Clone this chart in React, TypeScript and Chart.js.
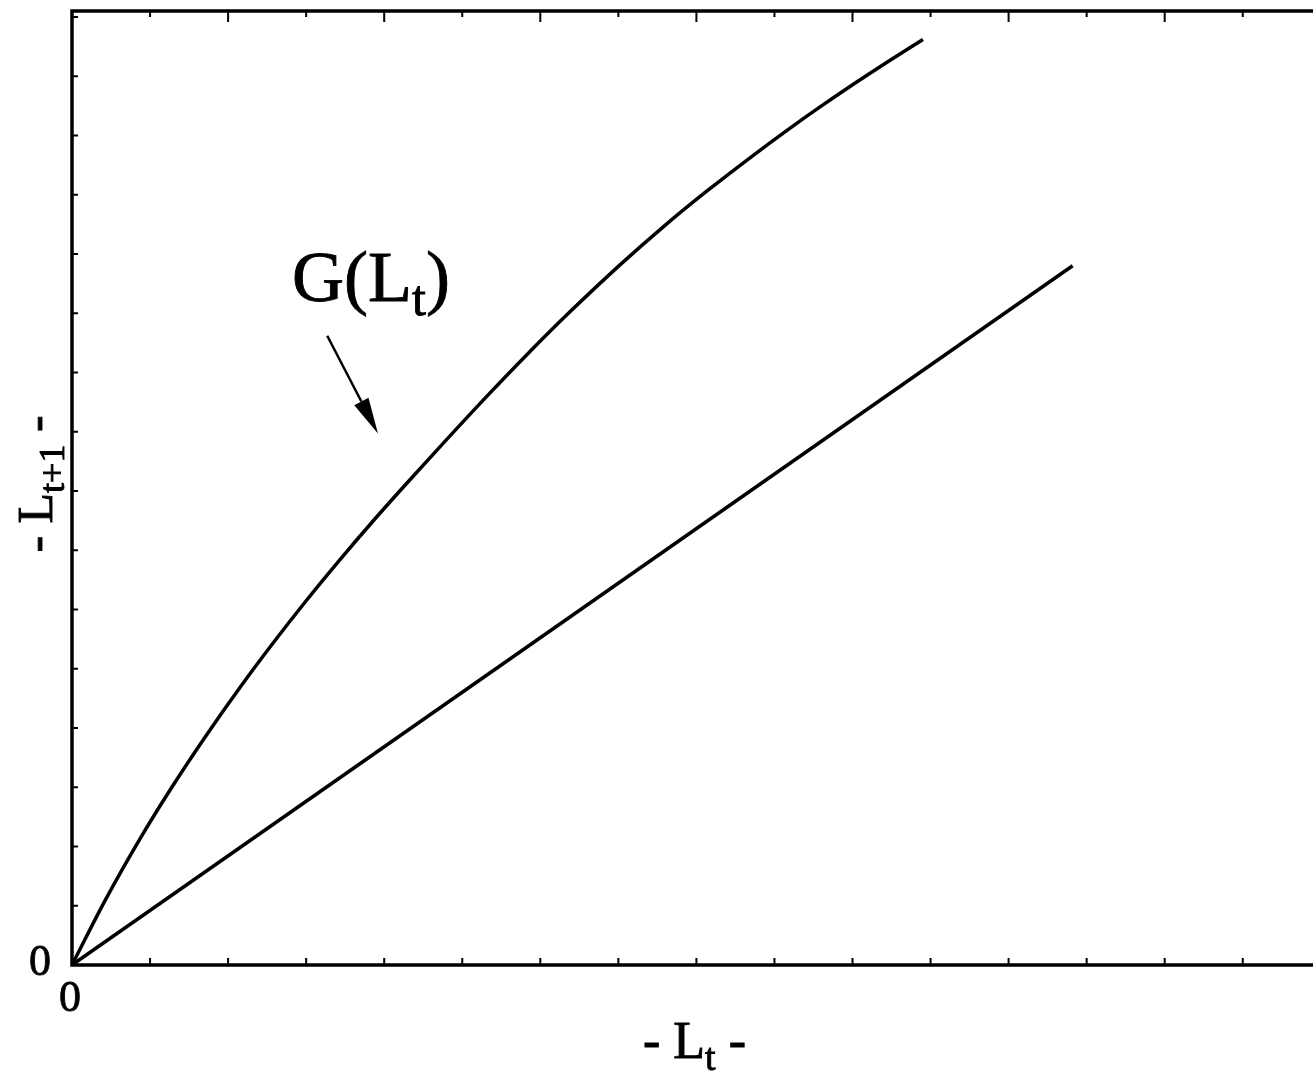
import React, { useEffect, useRef } from "react";
import { Chart, registerables } from "chart.js";

Chart.register(...registerables);

// G(L_t) curve (x = L_t, y = L_{t+1})
const curveX = [0, 0.423, 0.871, 1.281, 1.704, 2.152, 2.562, 2.985, 3.434, 3.844, 4.266, 4.638, 5.317, 5.868, 6.38, 7.021, 7.572, 8.136, 8.725, 9.161, 9.584, 10.006, 10.442, 10.903];
const curveY = [0, 1.087, 2.13, 3.004, 3.845, 4.684, 5.409, 6.122, 6.842, 7.472, 8.096, 8.635, 9.6, 10.354, 11.023, 11.816, 12.454, 13.063, 13.661, 14.086, 14.481, 14.859, 15.235, 15.619];
// straight reference line
const lineX = [0, 12.82];
const lineY = [0, 11.8];

const X_MAX = 15.9;
const Y_MAX = 16.1;
const xTicks = [1, 2, 3, 4, 5, 6, 7, 8, 9, 10, 11, 12, 13, 14, 15];
const yTicks = [1, 2, 3, 4, 5, 6, 7, 8, 9, 10, 11, 12, 13, 14, 15, 16];

const xOriginLabel = "0";
const yOriginLabel = "0";
const curveLabel = { main: "G(L", sub: "t", tail: ")" };
const xTitle = { main: "- L", sub: "t", tail: " -" };
const yTitle = { main: "- L", sub: "t+1", tail: " -" };

// annotation anchors in data units
const curveLabelPos = { x: 2.82, y: 11.21 };
const arrowFrom = { x: 3.27, y: 10.62 };
const arrowTo = { x: 3.92, y: 8.97 };

const FONT = '"Liberation Serif", "Times New Roman", serif';

function drawSubText(
  ctx: CanvasRenderingContext2D,
  x: number,
  y: number,
  parts: { main: string; sub: string; tail: string },
  size: number,
  subSize: number,
  subDrop: number,
  align: "left" | "center"
) {
  ctx.font = `${size}px ${FONT}`;
  const w1 = ctx.measureText(parts.main).width;
  const w3 = ctx.measureText(parts.tail).width;
  ctx.font = `${subSize}px ${FONT}`;
  const w2 = ctx.measureText(parts.sub).width;
  const total = w1 + w2 + w3;
  let sx = align === "center" ? x - total / 2 : x;
  ctx.textAlign = "left";
  ctx.textBaseline = "alphabetic";
  ctx.lineWidth = 0.9;
  ctx.font = `${size}px ${FONT}`;
  ctx.fillText(parts.main, sx, y);
  ctx.strokeText(parts.main, sx, y);
  sx += w1;
  ctx.font = `${subSize}px ${FONT}`;
  ctx.fillText(parts.sub, sx, y + subDrop);
  ctx.strokeText(parts.sub, sx, y + subDrop);
  sx += w2;
  ctx.font = `${size}px ${FONT}`;
  ctx.fillText(parts.tail, sx, y);
  ctx.strokeText(parts.tail, sx, y);
}

const framePlugin = {
  id: "frame",
  afterDraw(chart: any) {
    const ctx: CanvasRenderingContext2D = chart.ctx;
    const { left, right, top, bottom } = chart.chartArea;
    const xs = chart.scales.x;
    const ys = chart.scales.y;
    ctx.save();
    ctx.strokeStyle = "#000";
    ctx.fillStyle = "#000";
    ctx.lineCap = "butt";

    // frame: left, bottom, top
    ctx.lineWidth = 3.5;
    ctx.beginPath();
    ctx.moveTo(right, top);
    ctx.lineTo(left, top);
    ctx.lineTo(left, bottom);
    ctx.lineTo(right, bottom);
    ctx.stroke();

    // ticks
    ctx.lineWidth = 2;
    ctx.beginPath();
    for (const v of xTicks) {
      const px = xs.getPixelForValue(v);
      ctx.moveTo(px, bottom);
      ctx.lineTo(px, bottom - 7);
      const len = v % 2 === 0 ? 11 : 6;
      ctx.moveTo(px, top);
      ctx.lineTo(px, top + len);
    }
    for (const v of yTicks) {
      const py = ys.getPixelForValue(v);
      ctx.moveTo(left, py);
      ctx.lineTo(left + 6, py);
    }
    ctx.stroke();

    // origin labels
    ctx.font = `44px ${FONT}`;
    ctx.textAlign = "center";
    ctx.textBaseline = "alphabetic";
    ctx.lineWidth = 0.8;
    const oy = ys.getPixelForValue(0) + 10;
    ctx.fillText(yOriginLabel, left - 32, oy);
    ctx.strokeText(yOriginLabel, left - 32, oy);
    const ox = xs.getPixelForValue(0) - 2;
    ctx.fillText(xOriginLabel, ox, bottom + 46);
    ctx.strokeText(xOriginLabel, ox, bottom + 46);

    // axis titles
    drawSubText(ctx, (left + right) / 2 + 2, bottom + 93, xTitle, 52, 38, 12, "center");
    ctx.save();
    ctx.translate(left - 20, (top + bottom) / 2 - 4);
    ctx.rotate(-Math.PI / 2);
    drawSubText(ctx, 0, 0, yTitle, 50, 36, 12, "center");
    ctx.restore();

    // curve label
    drawSubText(
      ctx,
      xs.getPixelForValue(curveLabelPos.x),
      ys.getPixelForValue(curveLabelPos.y),
      curveLabel,
      72,
      50,
      14,
      "left"
    );

    // arrow
    const x1 = xs.getPixelForValue(arrowFrom.x);
    const y1 = ys.getPixelForValue(arrowFrom.y);
    const x2 = xs.getPixelForValue(arrowTo.x);
    const y2 = ys.getPixelForValue(arrowTo.y);
    const ang = Math.atan2(y2 - y1, x2 - x1);
    const headLen = 36;
    const headW = 8;
    const bx = x2 - headLen * Math.cos(ang);
    const by = y2 - headLen * Math.sin(ang);
    ctx.lineWidth = 2.5;
    ctx.beginPath();
    ctx.moveTo(x1, y1);
    ctx.lineTo(bx, by);
    ctx.stroke();
    ctx.beginPath();
    ctx.moveTo(x2, y2);
    ctx.lineTo(bx + headW * Math.sin(ang), by - headW * Math.cos(ang));
    ctx.lineTo(bx - headW * Math.sin(ang), by + headW * Math.cos(ang));
    ctx.closePath();
    ctx.fill();

    ctx.restore();
  },
};

export default function App() {
  const ref = useRef<HTMLCanvasElement | null>(null);
  useEffect(() => {
    document.body.style.margin = "0";
    if (!ref.current) return;
    const chart = new Chart(ref.current, {
      type: "scatter",
      data: {
        datasets: [
          {
            label: "G(Lt)",
            data: curveX.map((x, i) => ({ x, y: curveY[i] })),
            showLine: true,
            borderColor: "#000",
            borderWidth: 3.5,
            pointRadius: 0,
            cubicInterpolationMode: "monotone",
          },
          {
            label: "45",
            data: lineX.map((x, i) => ({ x, y: lineY[i] })),
            showLine: true,
            borderColor: "#000",
            borderWidth: 3.5,
            pointRadius: 0,
          },
        ],
      },
      options: {
        animation: false,
        responsive: false,
        maintainAspectRatio: false,
        layout: { padding: { left: 72, right: 0, top: 11, bottom: 112 } },
        plugins: { legend: { display: false }, tooltip: { enabled: false } },
        scales: {
          x: { type: "linear", min: 0, max: X_MAX, display: false },
          y: { type: "linear", min: 0, max: Y_MAX, display: false },
        },
      },
      plugins: [framePlugin],
    } as any);
    return () => chart.destroy();
  }, []);
  return (
    <div style={{ position: "fixed", left: 0, top: 0, width: 1313, height: 1077, background: "#fff" }}>
      <canvas ref={ref} width={1313} height={1077} style={{ display: "block" }} />
    </div>
  );
}
